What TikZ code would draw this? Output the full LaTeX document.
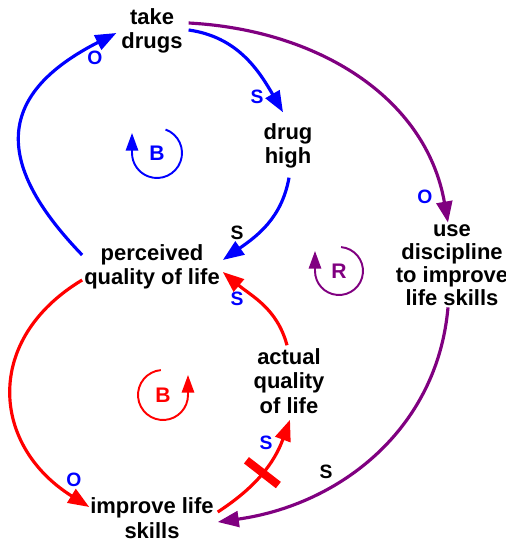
\documentclass[tikz,border=0pt]{standalone}
\usepackage{fontspec}
\setmainfont{Liberation Sans}
\usepackage{tikz}
\usetikzlibrary{arrows.meta}

\definecolor{loopblue}{RGB}{0,0,255}
\definecolor{loopred}{RGB}{255,0,0}
\definecolor{looppurple}{RGB}{128,0,128}

\begin{document}
\begin{tikzpicture}[
  x=0.02cm, y=0.02cm,
  font=\fontsize{12.5}{14}\selectfont\bfseries,
  var/.style={align=center, inner sep=1pt},
  link/.style={line width=1.8pt, -{Triangle[length=12pt,width=9pt]}},
  pol/.style={font=\fontsize{11}{13}\selectfont\bfseries},
  looplabel/.style={font=\fontsize{12}{14}\selectfont\bfseries},
  loopmark/.style={line width=1.1pt, -{Triangle[length=10pt,width=7pt]}},
  delaymark/.style={sloped, fill=loopred, draw=none, inner sep=0pt, minimum width=4.6pt, minimum height=23pt}
]
\useasboundingbox (0,0) rectangle (506,542);

% variables
\node[var] (drugs) at (152,511) {take\\drugs};
\node[var] (high) at (288,396) {drug\\high};
\node[var] (perceived) at (152,275) {perceived\\quality of life};
\node[var, font=\fontsize{12.5}{13}\selectfont\bfseries] (discipline) at (452,277) {use\\discipline\\to improve\\life skills};
\node[var] (actual) at (289,161) {actual\\quality\\of life};
\node[var] (improve) at (152,24) {improve life\\skills};

% blue loop
\draw[link, loopblue] ([shift={(0,12)}]perceived.west) to[out=134, in=207, looseness=1.5] ([shift={(-3,-2)}]drugs.west);
\draw[link, loopblue] ([shift={(4,1)}]drugs.east) to[out=-8, in=120] ([shift={(-5,9)}]high.north);
\draw[link, loopblue] ([shift={(1,-7)}]high.south) to[out=-100, in=35] ([shift={(1,7)}]perceived.east);

% red loop
\draw[link, loopred] ([shift={(0,-13)}]perceived.west) to[out=211, in=148, looseness=1.3] ([shift={(1,11)}]improve.west);
\draw[link, loopred] ([shift={(2,6)}]improve.east) to[out=33, in=250] node[pos=0.5, delaymark] {} ([shift={(1,-4)}]actual.south);
\draw[link, loopred] ([shift={(-2,1)}]actual.north) to[out=105, in=-40] ([shift={(1,-5)}]perceived.east);

% purple loop
\draw[link, looppurple] ([shift={(4,8)}]drugs.east) to[out=-3, in=100] ([shift={(-4,0)}]discipline.north);
\draw[link, looppurple] ([shift={(-4,0)}]discipline.south) to[out=-95, in=8] ([shift={(2,-4)}]improve.east);

% polarities
\node[pol, loopblue] (o1) at (95,484) {O};
\node[pol, loopblue] (s1) at (257,445) {S};
\node[pol] (s2) at (237,309) {S};
\node[pol, loopblue] (o2) at (425,345) {O};
\node[pol] (s3) at (326,70) {S};
\node[pol, loopblue] (o3) at (74,62) {O};
\node[pol, loopblue] (s4) at (237,243) {S};
\node[pol, loopblue] (s5) at (266,99) {S};

% loop markers
\node[looplabel, loopblue] (bB) at (157,389) {B};
\draw[loopmark, loopblue] ([shift={(70:25)}]bB.center) arc[start angle=70, end angle=-180, radius=0.5cm] -- ++(0,20);
\node[looplabel, loopred] (rB) at (163,147) {B};
\draw[loopmark, loopred] ([shift={(95:25)}]rB.center) arc[start angle=95, end angle=360, radius=0.5cm] -- ++(0,20);
\node[looplabel, looppurple] (pR) at (339,271) {R};
\draw[loopmark, looppurple] ([shift={(85:24)}]pR.center) arc[start angle=85, end angle=-180, radius=0.48cm] -- ++(0,20);
\end{tikzpicture}
\end{document}
